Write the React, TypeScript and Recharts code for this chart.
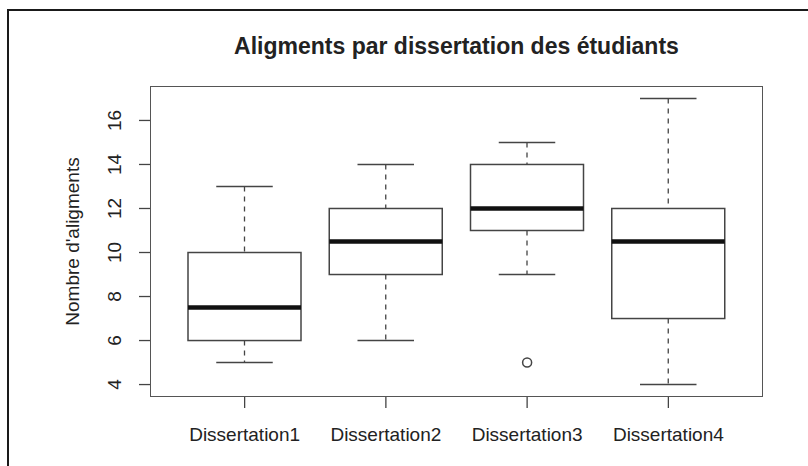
import React from 'react';
import { ComposedChart, Bar, Scatter, XAxis, YAxis } from 'recharts';

// box plot stats
const dissertations = ['Dissertation1', 'Dissertation2', 'Dissertation3', 'Dissertation4'];
const whiskerLow = [5, 6, 9, 4];
const q1 = [6, 9, 11, 7];
const median = [7.5, 10.5, 12, 10.5];
const q3 = [10, 12, 14, 12];
const whiskerHigh = [13, 14, 15, 17];
const outliers = [null, null, 5, null];
const yTicks = [4, 6, 8, 10, 12, 14, 16];

const data = dissertations.map((name, i) => ({
  name,
  low: whiskerLow[i],
  q1: q1[i],
  median: median[i],
  q3: q3[i],
  high: whiskerHigh[i],
  outlier: outliers[i],
}));

const FONT = '"Liberation Sans", Arial, Helvetica, sans-serif';
const INK = '#222';
const LINE = '#444';

// plot area, matches the chart margins below
const PLOT = { left: 151, top: 87, width: 611, height: 309 };

// the bar covers low..high, other stats are placed on the same linear scale
const BoxShape = (props: any) => {
  const { x, y, width, height, payload } = props;
  if (!payload) return null;
  const top = Math.min(y, y + height);
  const h = Math.abs(height);
  const unit = h / (payload.high - payload.low);
  const yOf = (v: number) => top + (payload.high - v) * unit;
  const cx = x + width / 2;
  const capHalf = width / 4;
  return (
    <g>
      <line x1={cx} x2={cx} y1={yOf(payload.high)} y2={yOf(payload.q3)} stroke={LINE} strokeWidth={1.3} strokeDasharray="5 5" />
      <line x1={cx} x2={cx} y1={yOf(payload.q1)} y2={yOf(payload.low)} stroke={LINE} strokeWidth={1.3} strokeDasharray="5 5" />
      <line x1={cx - capHalf} x2={cx + capHalf} y1={yOf(payload.high)} y2={yOf(payload.high)} stroke={LINE} strokeWidth={1.5} />
      <line x1={cx - capHalf} x2={cx + capHalf} y1={yOf(payload.low)} y2={yOf(payload.low)} stroke={LINE} strokeWidth={1.5} />
      <rect x={x} y={yOf(payload.q3)} width={width} height={yOf(payload.q1) - yOf(payload.q3)} fill="#fff" stroke={LINE} strokeWidth={1.5} />
      <line x1={x} x2={x + width} y1={yOf(payload.median)} y2={yOf(payload.median)} stroke="#111" strokeWidth={4.5} />
    </g>
  );
};

const OutlierShape = (props: any) => {
  const { cx, cy, payload } = props;
  if (!payload || payload.outlier == null || !isFinite(cy)) return <g />;
  return <circle cx={cx} cy={cy} r={4.5} fill="#fff" stroke={LINE} strokeWidth={1.5} />;
};

const YTick = (props: any) => {
  const { x, y, payload } = props;
  const tx = x - 16;
  return (
    <text x={tx} y={y} transform={`rotate(-90, ${tx}, ${y})`} textAnchor="middle" fill={INK} fontSize={19} fontFamily={FONT}>
      {payload.value}
    </text>
  );
};

const XTick = (props: any) => {
  const { x, y, payload } = props;
  return (
    <text x={x} y={y + 31} textAnchor="middle" fill={INK} fontSize={19} fontFamily={FONT}>
      {payload.value}
    </text>
  );
};

const YLabel = (props: any) => {
  const { viewBox } = props;
  const cy = viewBox.y + viewBox.height / 2;
  return (
    <text x={79} y={cy} transform={`rotate(-90, 79, ${cy})`} textAnchor="middle" fill={INK} fontSize={19} fontFamily={FONT}>
      Nombre d'aligments
    </text>
  );
};

export default function App() {
  return (
    <div style={{ position: 'absolute', left: 0, top: 0, width: 808, height: 466, background: '#fff' }}>
      <div style={{ position: 'absolute', left: 7, top: 9, width: 801, height: 457, borderTop: '2px solid #1a1a1a', borderLeft: '2px solid #1a1a1a' }} />
      <div
        style={{
          position: 'absolute',
          left: PLOT.left,
          width: PLOT.width,
          top: 33,
          textAlign: 'center',
          fontFamily: FONT,
          fontWeight: 'bold',
          fontSize: 23,
          color: INK,
        }}
      >
        Aligments par dissertation des étudiants
      </div>
      <div style={{ position: 'absolute', left: 0, top: 0 }}>
        <ComposedChart
          width={808}
          height={466}
          data={data}
          margin={{ top: PLOT.top, right: 808 - PLOT.left - PLOT.width, bottom: 466 - PLOT.top - PLOT.height - 40, left: PLOT.left - 60 }}
        >
          <XAxis
            dataKey="name"
            type="category"
            height={40}
            padding={{ left: 23, right: 23 }}
            axisLine={false}
            tickSize={12}
            tickLine={{ stroke: LINE, strokeWidth: 1.3 }}
            tick={<XTick />}
            interval={0}
          />
          <YAxis
            type="number"
            width={60}
            domain={[3.48, 17.52]}
            ticks={yTicks}
            allowDataOverflow
            axisLine={false}
            tickSize={12}
            tickLine={{ stroke: LINE, strokeWidth: 1.3 }}
            tick={<YTick />}
            label={<YLabel />}
          />
          <Bar dataKey={(d: any) => [d.low, d.high]} barSize={113} shape={<BoxShape />} isAnimationActive={false} />
          <Scatter dataKey="outlier" shape={<OutlierShape />} isAnimationActive={false} />
        </ComposedChart>
      </div>
      {/* box() around the plot region */}
      <div
        style={{
          position: 'absolute',
          left: PLOT.left - 0.75,
          top: PLOT.top - 0.75,
          width: PLOT.width + 1.5,
          height: PLOT.height + 1.5,
          boxSizing: 'border-box',
          border: '1.5px solid #555',
          pointerEvents: 'none',
        }}
      />
    </div>
  );
}
